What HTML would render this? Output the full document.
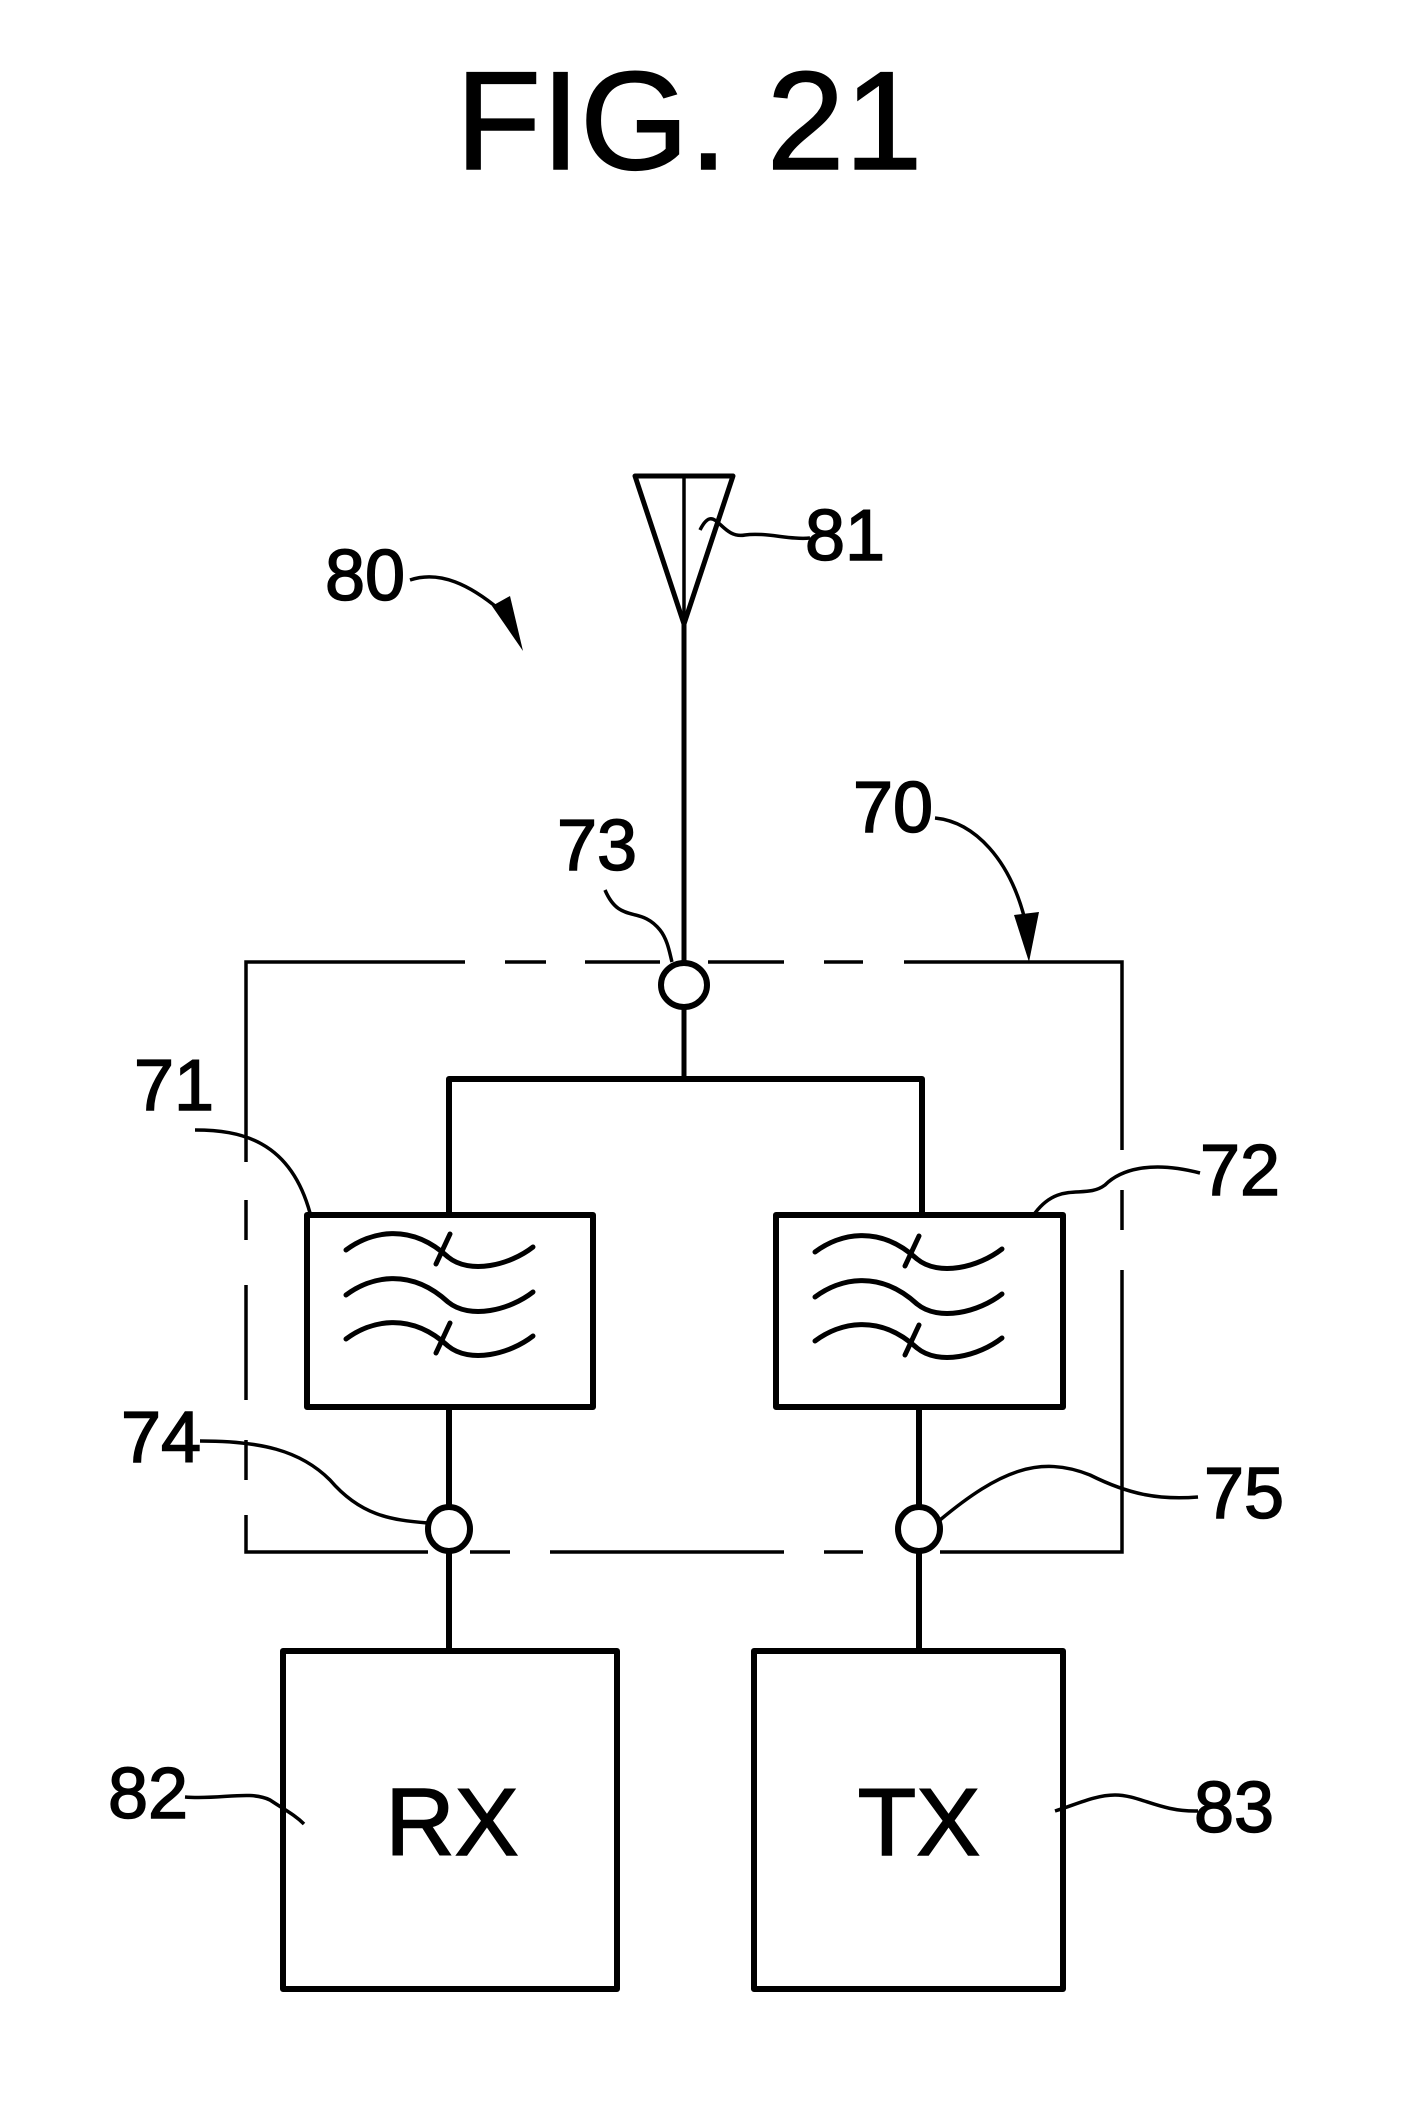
<!DOCTYPE html>
<html><head><style>html,body{margin:0;padding:0;background:#fff}svg{display:block}</style></head>
<body>
<svg width="1402" height="2119" viewBox="0 0 1402 2119" xmlns="http://www.w3.org/2000/svg">
<g font-family="Liberation Sans, sans-serif" fill="#000" stroke="#000" stroke-width="1.5" text-anchor="middle">
<text x="689" y="169" font-size="140">FIG. 21</text>
<text x="845" y="560" font-size="72">81</text>
<text x="365" y="600" font-size="72">80</text>
<text x="893" y="832" font-size="72">70</text>
<text x="597" y="870" font-size="72">73</text>
<text x="174" y="1110" font-size="72">71</text>
<text x="1240" y="1195" font-size="72">72</text>
<text x="161" y="1462" font-size="72">74</text>
<text x="1244" y="1518" font-size="72">75</text>
<text x="148" y="1818" font-size="72">82</text>
<text x="1234" y="1832" font-size="72">83</text>
<text x="452" y="1855" font-size="96">RX</text>
<text x="919" y="1855" font-size="96">TX</text>
</g>
<g fill="none" stroke="#000" stroke-width="6" stroke-linejoin="round">
<path d="M635 476 L733 476 L684 624 Z" stroke-width="5"/>
<path d="M684 476 V624" stroke-width="3.5"/>
<path d="M684 624 V962" stroke-width="5"/>
<ellipse cx="684" cy="985" rx="23" ry="22"/>
<path d="M684 1007 V1079" stroke-width="5"/>
<path d="M449 1215 V1079 H922 V1215"/>
<rect x="307" y="1215" width="286" height="192"/>
<rect x="776" y="1215" width="287" height="192"/>
<path d="M449 1407 V1507"/>
<path d="M919 1407 V1507"/>
<ellipse cx="449" cy="1529" rx="21" ry="22"/>
<ellipse cx="919" cy="1529" rx="21" ry="22"/>
<path d="M449 1551 V1651"/>
<path d="M919 1551 V1651"/>
<rect x="283" y="1651" width="334" height="338"/>
<rect x="754" y="1651" width="309" height="338"/>
</g>
<g fill="none" stroke="#000" stroke-width="3.5">
<path d="M465 962 H246 V1162"/>
<path d="M505 962 H546 M585 962 H660 M708 962 H784 M824 962 H863 M904 962 H1122 V1150"/>
<path d="M246 1200 V1240 M246 1285 V1400 M246 1440 V1480 M246 1515 V1552 H428"/>
<path d="M1122 1190 V1230 M1122 1270 V1552 H940"/>
<path d="M470 1552 H510 M550 1552 H784 M824 1552 H863"/>
</g>
<g fill="none" stroke="#000" stroke-width="5" stroke-linecap="round">
<g id="w">
<path d="M346 1250 C370 1232 410 1222 448 1257 C470 1275 510 1265 533 1247"/>
<path d="M346 1295 C370 1277 410 1267 448 1302 C470 1320 510 1310 533 1292"/>
<path d="M346 1339 C370 1321 410 1311 448 1346 C470 1364 510 1354 533 1336"/>
<path d="M450 1234 L436 1264 M450 1323 L436 1353"/>
</g>
<use href="#w" transform="translate(469 2)"/>
</g>
<g fill="none" stroke="#000" stroke-width="3.5">
<path d="M700 530 C715 500 720 540 745 535 C765 532 790 540 810 538"/>
<path d="M410 580 C440 570 470 585 500 610"/>
<path d="M935 818 C975 822 1010 860 1025 920"/>
<path d="M605 890 C620 925 640 905 660 930 C668 940 670 955 672 962"/>
<path d="M195 1130 C240 1130 290 1140 310 1213"/>
<path d="M1200 1173 C1150 1160 1120 1170 1105 1185 C1085 1200 1060 1180 1035 1213"/>
<path d="M200 1441 C260 1441 300 1450 330 1480 C360 1515 390 1520 428 1523"/>
<path d="M1198 1497 C1160 1500 1130 1495 1090 1475 C1040 1455 1000 1470 940 1520"/>
<path d="M185 1797 C220 1800 250 1790 270 1800 C285 1810 295 1815 304 1824"/>
<path d="M1198 1811 C1160 1812 1140 1795 1115 1795 C1095 1795 1075 1805 1055 1811"/>
</g>
<path d="M492 606 L523 651 L510 596 Z" fill="#000"/>
<path d="M1014 915 L1029 962 L1039 912 Z" fill="#000"/>
</svg>
</body></html>
